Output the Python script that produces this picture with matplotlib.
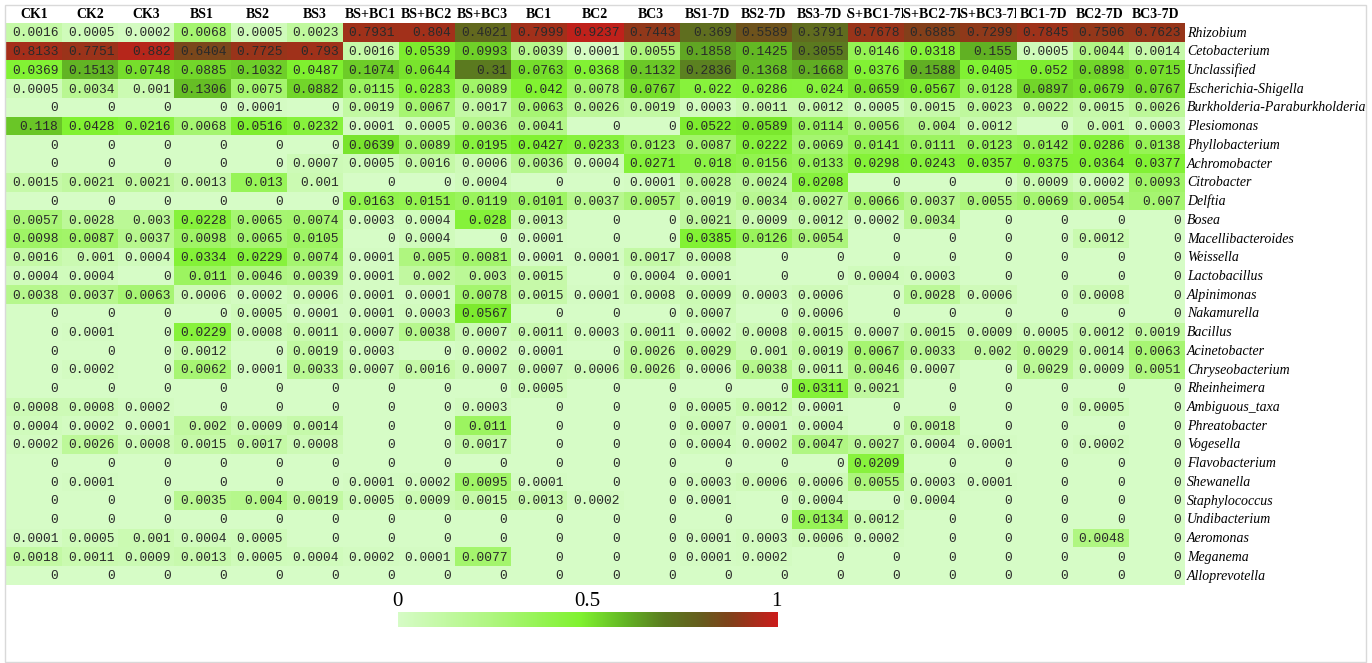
import numpy as np
import matplotlib
matplotlib.use("Agg")
import matplotlib.pyplot as plt
from matplotlib.colors import LinearSegmentedColormap, FuncNorm
from matplotlib.patches import Rectangle

# Sample groups (columns) and genera (rows)
samples = ["CK1", "CK2", "CK3", "BS1", "BS2", "BS3",
           "BS+BC1", "BS+BC2", "BS+BC3", "BC1", "BC2", "BC3",
           "BS1-7D", "BS2-7D", "BS3-7D", "BS+BC1-7D", "BS+BC2-7D", "BS+BC3-7D",
           "BC1-7D", "BC2-7D", "BC3-7D"]

genera = ["Rhizobium", "Cetobacterium", "Unclassified", "Escherichia-Shigella",
          "Burkholderia-Paraburkholderia", "Plesiomonas", "Phyllobacterium",
          "Achromobacter", "Citrobacter", "Delftia", "Bosea", "Macellibacteroides",
          "Weissella", "Lactobacillus", "Alpinimonas", "Nakamurella", "Bacillus",
          "Acinetobacter", "Chryseobacterium", "Rheinheimera", "Ambiguous_taxa",
          "Phreatobacter", "Vogesella", "Flavobacterium", "Shewanella",
          "Staphylococcus", "Undibacterium", "Aeromonas", "Meganema", "Alloprevotella"]

# Relative abundance, one list per genus
rhizobium = [0.0016, 0.0005, 0.0002, 0.0068, 0.0005, 0.0023, 0.7931, 0.804, 0.4021, 0.7999, 0.9237,
             0.7443, 0.369, 0.5589, 0.3791, 0.7678, 0.6885, 0.7299, 0.7845, 0.7506, 0.7623]
cetobacterium = [0.8133, 0.7751, 0.882, 0.6404, 0.7725, 0.793, 0.0016, 0.0539, 0.0993, 0.0039, 0.0001,
                 0.0055, 0.1858, 0.1425, 0.3055, 0.0146, 0.0318, 0.155, 0.0005, 0.0044, 0.0014]
unclassified = [0.0369, 0.1513, 0.0748, 0.0885, 0.1032, 0.0487, 0.1074, 0.0644, 0.31, 0.0763, 0.0368,
                0.1132, 0.2836, 0.1368, 0.1668, 0.0376, 0.1588, 0.0405, 0.052, 0.0898, 0.0715]
escherichia = [0.0005, 0.0034, 0.001, 0.1306, 0.0075, 0.0882, 0.0115, 0.0283, 0.0089, 0.042, 0.0078,
               0.0767, 0.022, 0.0286, 0.024, 0.0659, 0.0567, 0.0128, 0.0897, 0.0679, 0.0767]
burkholderia = [0, 0, 0, 0, 0.0001, 0, 0.0019, 0.0067, 0.0017, 0.0063, 0.0026,
                0.0019, 0.0003, 0.0011, 0.0012, 0.0005, 0.0015, 0.0023, 0.0022, 0.0015, 0.0026]
plesiomonas = [0.118, 0.0428, 0.0216, 0.0068, 0.0516, 0.0232, 0.0001, 0.0005, 0.0036, 0.0041, 0,
               0, 0.0522, 0.0589, 0.0114, 0.0056, 0.004, 0.0012, 0, 0.001, 0.0003]
phyllobacterium = [0, 0, 0, 0, 0, 0, 0.0639, 0.0089, 0.0195, 0.0427, 0.0233,
                   0.0123, 0.0087, 0.0222, 0.0069, 0.0141, 0.0111, 0.0123, 0.0142, 0.0286, 0.0138]
achromobacter = [0, 0, 0, 0, 0, 0.0007, 0.0005, 0.0016, 0.0006, 0.0036, 0.0004,
                 0.0271, 0.018, 0.0156, 0.0133, 0.0298, 0.0243, 0.0357, 0.0375, 0.0364, 0.0377]
citrobacter = [0.0015, 0.0021, 0.0021, 0.0013, 0.013, 0.001, 0, 0, 0.0004, 0, 0,
               0.0001, 0.0028, 0.0024, 0.0208, 0, 0, 0, 0.0009, 0.0002, 0.0093]
delftia = [0, 0, 0, 0, 0, 0, 0.0163, 0.0151, 0.0119, 0.0101, 0.0037,
           0.0057, 0.0019, 0.0034, 0.0027, 0.0066, 0.0037, 0.0055, 0.0069, 0.0054, 0.007]
bosea = [0.0057, 0.0028, 0.003, 0.0228, 0.0065, 0.0074, 0.0003, 0.0004, 0.028, 0.0013, 0,
         0, 0.0021, 0.0009, 0.0012, 0.0002, 0.0034, 0, 0, 0, 0]
macellibacteroides = [0.0098, 0.0087, 0.0037, 0.0098, 0.0065, 0.0105, 0, 0.0004, 0, 0.0001, 0,
                      0, 0.0385, 0.0126, 0.0054, 0, 0, 0, 0, 0.0012, 0]
weissella = [0.0016, 0.001, 0.0004, 0.0334, 0.0229, 0.0074, 0.0001, 0.005, 0.0081, 0.0001, 0.0001,
             0.0017, 0.0008, 0, 0, 0, 0, 0, 0, 0, 0]
lactobacillus = [0.0004, 0.0004, 0, 0.011, 0.0046, 0.0039, 0.0001, 0.002, 0.003, 0.0015, 0,
                 0.0004, 0.0001, 0, 0, 0.0004, 0.0003, 0, 0, 0, 0]
alpinimonas = [0.0038, 0.0037, 0.0063, 0.0006, 0.0002, 0.0006, 0.0001, 0.0001, 0.0078, 0.0015, 0.0001,
               0.0008, 0.0009, 0.0003, 0.0006, 0, 0.0028, 0.0006, 0, 0.0008, 0]
nakamurella = [0, 0, 0, 0, 0.0005, 0.0001, 0.0001, 0.0003, 0.0567, 0, 0,
               0, 0.0007, 0, 0.0006, 0, 0, 0, 0, 0, 0]
bacillus = [0, 0.0001, 0, 0.0229, 0.0008, 0.0011, 0.0007, 0.0038, 0.0007, 0.0011, 0.0003,
            0.0011, 0.0002, 0.0008, 0.0015, 0.0007, 0.0015, 0.0009, 0.0005, 0.0012, 0.0019]
acinetobacter = [0, 0, 0, 0.0012, 0, 0.0019, 0.0003, 0, 0.0002, 0.0001, 0,
                 0.0026, 0.0029, 0.001, 0.0019, 0.0067, 0.0033, 0.002, 0.0029, 0.0014, 0.0063]
chryseobacterium = [0, 0.0002, 0, 0.0062, 0.0001, 0.0033, 0.0007, 0.0016, 0.0007, 0.0007, 0.0006,
                    0.0026, 0.0006, 0.0038, 0.0011, 0.0046, 0.0007, 0, 0.0029, 0.0009, 0.0051]
rheinheimera = [0, 0, 0, 0, 0, 0, 0, 0, 0, 0.0005, 0,
                0, 0, 0, 0.0311, 0.0021, 0, 0, 0, 0, 0]
ambiguous = [0.0008, 0.0008, 0.0002, 0, 0, 0, 0, 0, 0.0003, 0, 0,
             0, 0.0005, 0.0012, 0.0001, 0, 0, 0, 0, 0.0005, 0]
phreatobacter = [0.0004, 0.0002, 0.0001, 0.002, 0.0009, 0.0014, 0, 0, 0.011, 0, 0,
                 0, 0.0007, 0.0001, 0.0004, 0, 0.0018, 0, 0, 0, 0]
vogesella = [0.0002, 0.0026, 0.0008, 0.0015, 0.0017, 0.0008, 0, 0, 0.0017, 0, 0,
             0, 0.0004, 0.0002, 0.0047, 0.0027, 0.0004, 0.0001, 0, 0.0002, 0]
flavobacterium = [0, 0, 0, 0, 0, 0, 0, 0, 0, 0, 0,
                  0, 0, 0, 0, 0.0209, 0, 0, 0, 0, 0]
shewanella = [0, 0.0001, 0, 0, 0, 0, 0.0001, 0.0002, 0.0095, 0.0001, 0,
              0, 0.0003, 0.0006, 0.0006, 0.0055, 0.0003, 0.0001, 0, 0, 0]
staphylococcus = [0, 0, 0, 0.0035, 0.004, 0.0019, 0.0005, 0.0009, 0.0015, 0.0013, 0.0002,
                  0, 0.0001, 0, 0.0004, 0, 0.0004, 0, 0, 0, 0]
undibacterium = [0, 0, 0, 0, 0, 0, 0, 0, 0, 0, 0,
                 0, 0, 0, 0.0134, 0.0012, 0, 0, 0, 0, 0]
aeromonas = [0.0001, 0.0005, 0.001, 0.0004, 0.0005, 0, 0, 0, 0, 0, 0,
             0, 0.0001, 0.0003, 0.0006, 0.0002, 0, 0, 0, 0.0048, 0]
meganema = [0.0018, 0.0011, 0.0009, 0.0013, 0.0005, 0.0004, 0.0002, 0.0001, 0.0077, 0, 0,
            0, 0.0001, 0.0002, 0, 0, 0, 0, 0, 0, 0]
alloprevotella = [0] * 21

data = np.array([rhizobium, cetobacterium, unclassified, escherichia, burkholderia, plesiomonas,
                 phyllobacterium, achromobacter, citrobacter, delftia, bosea, macellibacteroides,
                 weissella, lactobacillus, alpinimonas, nakamurella, bacillus, acinetobacter,
                 chryseobacterium, rheinheimera, ambiguous, phreatobacter, vogesella,
                 flavobacterium, shewanella, staphylococcus, undibacterium, aeromonas,
                 meganema, alloprevotella], dtype=float)

W, H = 1372, 663
n_rows, n_cols = data.shape

# pale green -> bright green -> olive -> brown -> red
cmap = LinearSegmentedColormap.from_list("greenred", [
    (0.0, "#d6fcc6"), (0.25, "#aef67e"), (0.48, "#80f230"), (0.6, "#62b424"),
    (0.7, "#5b7c20"), (0.8, "#675c1e"), (0.88, "#82401a"), (1.0, "#cc1c1c")])

# stretch the low end so small abundances still show some colour
knots_v = [0, 0.0005, 0.002, 0.006, 0.02, 0.06, 0.15, 0.3, 0.4, 0.6, 0.8, 0.95, 1.0]
knots_c = [0, 0.04, 0.13, 0.28, 0.44, 0.5, 0.6, 0.7, 0.76, 0.84, 0.93, 0.99, 1.0]
norm = FuncNorm((lambda v: np.interp(v, knots_v, knots_c),
                 lambda c: np.interp(c, knots_c, knots_v)), vmin=0, vmax=1)

fig = plt.figure(figsize=(W / 100, H / 100), dpi=100)
fig.patch.set_facecolor("white")

# heatmap axes: header row plus 30 data rows
left, right = 5.7, 1184.0
top, bottom = 4.6, 585.0
ax = fig.add_axes([left / W, 1 - bottom / H, (right - left) / W, (bottom - top) / H])
ax.imshow(data, cmap=cmap, norm=norm, aspect="auto",
          extent=(-0.5, n_cols - 0.5, n_rows - 0.5, -0.5), interpolation="nearest")
ax.set_xlim(-0.5, n_cols - 0.5)
ax.set_ylim(n_rows - 0.5, -1.5)
ax.axis("off")

# values in each cell, right aligned
for i in range(n_rows):
    for j in range(n_cols):
        ax.text(j + 0.44, i + 0.04, f"{data[i, j]:g}", ha="right", va="center",
                fontsize=9.3, family="Liberation Mono", color="#2a2a2a")

# column headers, clipped to their own cell
for j, name in enumerate(samples):
    t = ax.text(j, -0.95, name, ha="center", va="center", fontsize=10,
                family="Liberation Serif", fontweight="bold", color="black",
                clip_on=True)
    t.set_clip_path(Rectangle((j - 0.5, -1.5), 1, 1, transform=ax.transData))

# genus names on the right
for i, name in enumerate(genera):
    ax.text(n_cols - 0.45, i + 0.02, name, ha="left", va="center", fontsize=10,
            family="Liberation Serif", style="italic", color="black", clip_on=False)

# gradient legend
cax = fig.add_axes([397.7 / W, 1 - 626.7 / H, 379 / W, 14.4 / H])
cax.imshow(np.linspace(0, 1, 256)[None, :], cmap=cmap, aspect="auto",
           extent=(0, 1, 0, 1))
cax.set_xlim(0, 1)
cax.set_yticks([])
cax.xaxis.tick_top()
cax.set_xticks([0, 0.5, 1])
cax.set_xticklabels(["0", "0.5", "1"], fontsize=15, family="Liberation Serif")
cax.tick_params(axis="x", length=0, pad=1)
for s in cax.spines.values():
    s.set_visible(False)

# thin frame around the whole figure
fig.add_artist(Rectangle((5 / W, 1 - 661.5 / H), 1361 / W, 657 / H, transform=fig.transFigure,
                         fill=False, edgecolor="#d9d9d9", linewidth=1))

fig.savefig("out.png", dpi=100, facecolor="white")
